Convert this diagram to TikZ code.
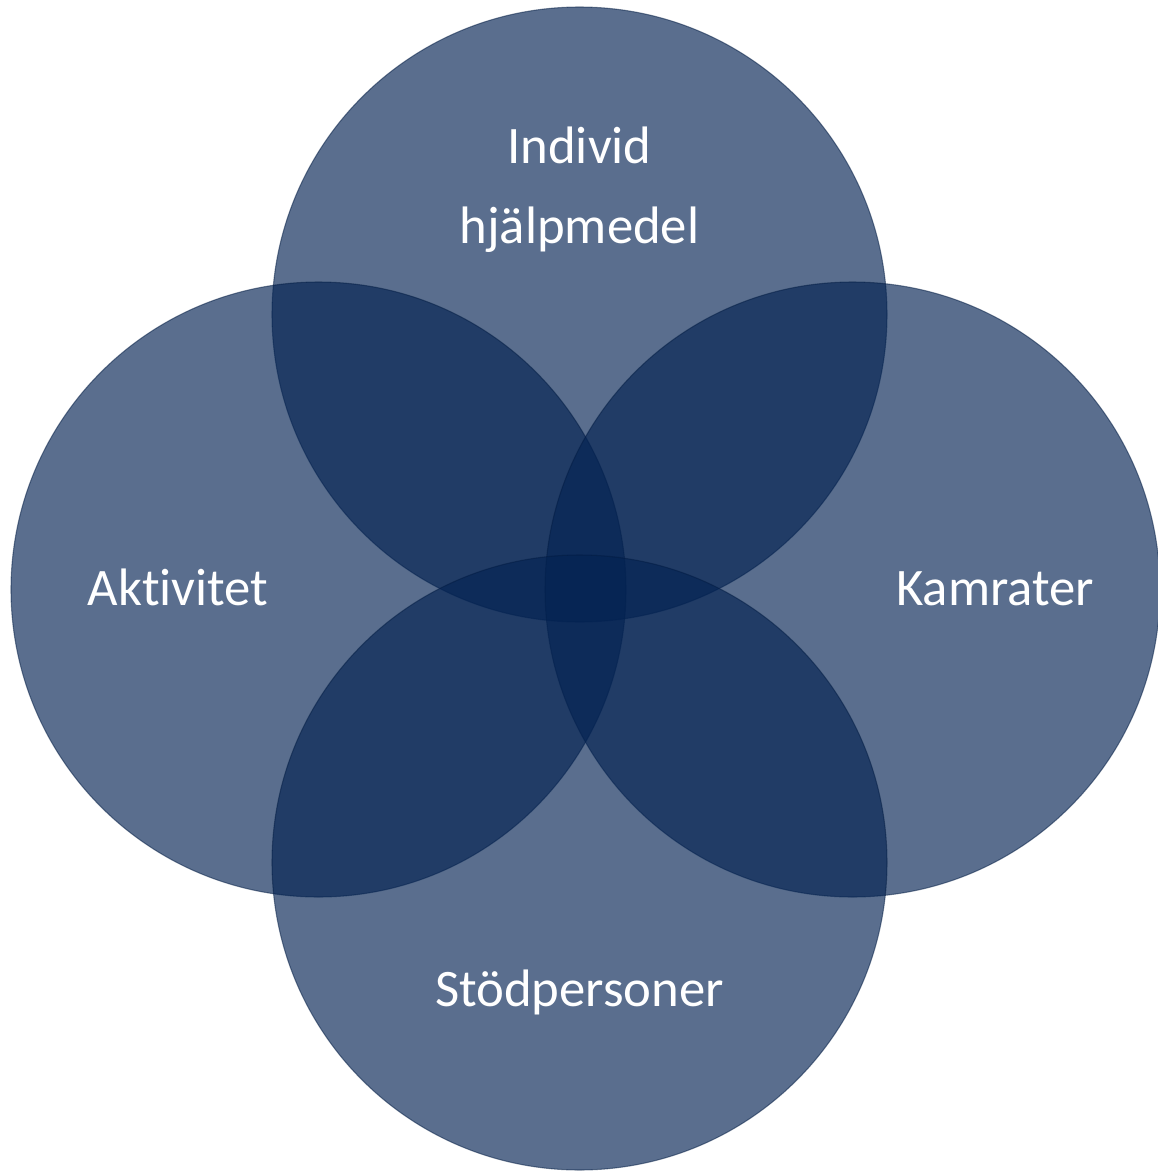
\documentclass[tikz,border=0pt]{standalone}
\usepackage{fontspec}
\setmainfont[Ligatures=NoCommon]{Carlito}
\usepackage{tikz}
\definecolor{venn}{RGB}{3,34,82}
\tikzset{
    > = latex
}

\begin{document}
\begin{tikzpicture}[x=.02cm, y=-.02cm]
        \tikzstyle{ring}=[fill=venn, fill opacity=.655, draw=venn!80!black, draw opacity=.5, line width=.6pt]
        \tikzstyle{lbl}=[text=white, anchor=base, inner sep=0pt, align=center, font=\fontsize{30}{45.5}\selectfont]
        \useasboundingbox (0,0) rectangle (1157,1173);
        \draw[ring] (579.5,314.5) circle (307.5);
        \draw[ring] (318.5,589.5) circle (307.5);
        \draw[ring] (852.5,589.5) circle (307.5);
        \draw[ring] (579.5,862.5) circle (307.5);
        \node[lbl] (indiv) at (579.5,163) {Individ};
        \node[lbl] (hjalp) at (579.5,243) {hjälpmedel};
        \node[lbl] (aktiv) at (178,605) {Aktivitet};
        \node[lbl] (kamr) at (995,605) {Kamrater};
        \node[lbl] (stod) at (579.5,1006) {Stödpersoner};
    \end{tikzpicture}
\end{document}
